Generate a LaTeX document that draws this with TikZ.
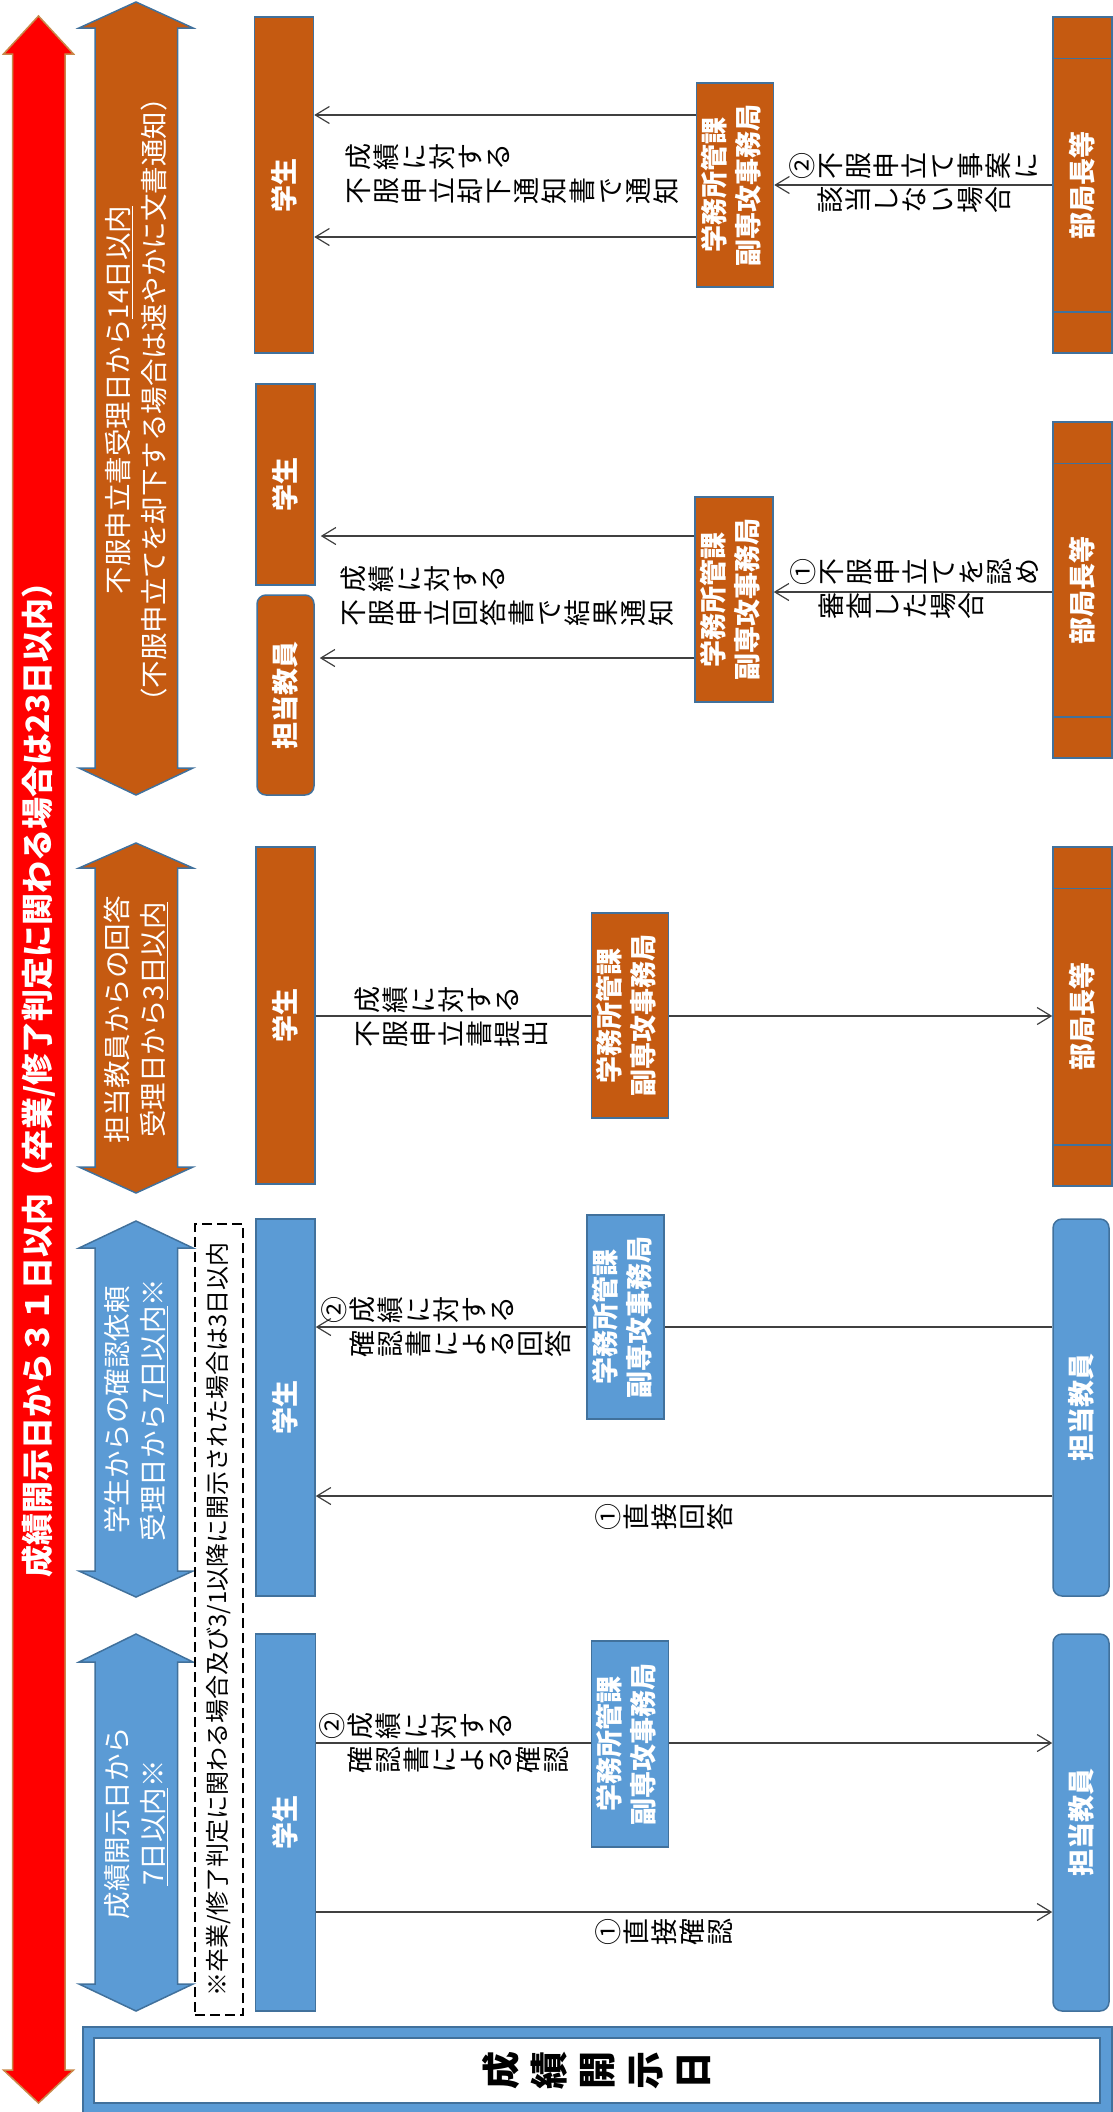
\documentclass[tikz,border=0pt]{standalone}
\usepackage{fontspec}
\setmainfont{Noto Sans CJK JP}
\usepackage{graphicx}
\usetikzlibrary{arrows.meta,positioning}

\definecolor{boxblue}{HTML}{5B9BD5}
\definecolor{edgeblue}{HTML}{41719C}
\definecolor{boxbrown}{HTML}{C55A11}
\definecolor{redrim}{HTML}{C8894A}

\makeatletter
\newcommand\tatecol[2][]{\vtop{\lineskiplimit=-\maxdimen #1\@tfor\tch:=#2\do{\hbox to 1em{\hss\tch\hss}}}}
\makeatother
\newcommand\tatetwo[3][]{\rotatebox{90}{\hbox{\tatecol[#1]{#3}\hskip 7pt\tatecol{#2}}}}

\begin{document}
\begin{tikzpicture}[x=1pt,y=-1pt]
		\tikzstyle{bluebox}=[draw=edgeblue,fill=boxblue,line width=1.5pt,inner sep=0pt,text=white,font=\bfseries\fontsize{27}{34}\selectfont]
		\tikzstyle{brownbox}=[bluebox,fill=boxbrown]
		\tikzstyle{staff}=[rounded corners=9pt]
		\tikzstyle{tatelabel}=[inner sep=0pt,anchor=west,font=\fontsize{27}{28}\selectfont]
		\tikzstyle{spantext}=[rotate=90,align=center,text=white,font=\fontsize{27.5}{36}\selectfont]
		\tikzstyle{flow}=[line width=1.2pt,draw=black!75]
		\tikzstyle{flowto}=[flow,-{Straight Barb[length=14pt,width=17pt]}]
		
		\useasboundingbox (0,0) rectangle (1113,2112);
		
		\filldraw[fill=red,draw=redrim,line width=1.5pt] (38.5,16) -- (73.5,54) -- (65,54) -- (65,2070) -- (73.5,2070) -- (38.5,2103) -- (3.5,2070) -- (12.5,2070) -- (12.5,54) -- (3.5,54) -- cycle;
		\node[rotate=90,text=white,font=\bfseries\fontsize{32}{32}\selectfont] (total) at (38.5,1072) {成績開示日から３１日以内（卒業/修了判定に関わる場合は23日以内）};
		
		\foreach \col/\ya/\yb/\yc/\yd in {boxbrown/2/28/768/795,boxbrown/843/868/1167/1193,boxblue/1221/1248/1571/1597,boxblue/1634/1662/1984/2011}
			\filldraw[fill=\col,draw=edgeblue,line width=1.5pt] (136,\ya) -- (193,\yb) -- (177.5,\yb) -- (177.5,\yc) -- (193,\yc) -- (136,\yd) -- (79,\yc) -- (95,\yc) -- (95,\yb) -- (79,\yb) -- cycle;
		\node[spantext] (spanReject) at (136,400) {不服申立書受理日から\underline{14日以内}\\（不服申立てを却下する場合は速やかに文書通知）};
		\node[spantext] (spanAppeal) at (136,1020) {担当教員からの回答\\受理日から\underline{3日以内}};
		\node[spantext] (spanAnswer) at (136,1410) {学生からの確認依頼\\受理日から\underline{7日以内}※};
		\node[spantext] (spanConfirm) at (136,1823) {成績開示日から\\\underline{7日以内}※};
		
		\node[draw,line width=1.5pt,dash pattern=on 10pt off 5pt,minimum width=48pt,minimum height=791pt,inner sep=0pt,font=\fontsize{24}{24}\selectfont] (note) at (219,1619.5) {\rotatebox{90}{※卒業/修了判定に関わる場合及び3/1以降に開示された場合は3日以内}};
		
		\node[brownbox,minimum width=59pt,minimum height=336pt] (stuReject) at (284,185) {\rotatebox{90}{学生}};
		\node[brownbox,minimum width=77pt,minimum height=204pt] (offReject) at (735,185) {\rotatebox{90}{\begin{tabular}{@{}c@{}}学務所管課\\副専攻事務局\end{tabular}}};
		\node[brownbox,minimum width=59pt,minimum height=336pt] (headReject) at (1082.5,185) {\rotatebox{90}{部局長等}};
		
		\node[brownbox,minimum width=59pt,minimum height=201pt] (stuResult) at (285.5,484.5) {\rotatebox{90}{学生}};
		\node[brownbox,staff,minimum width=57pt,minimum height=200pt] (teaResult) at (285.5,695) {\rotatebox{90}{担当教員}};
		\node[brownbox,minimum width=78pt,minimum height=205pt] (offResult) at (734,599.5) {\rotatebox{90}{\begin{tabular}{@{}c@{}}学務所管課\\副専攻事務局\end{tabular}}};
		\node[brownbox,minimum width=59pt,minimum height=336pt] (headResult) at (1082.5,590) {\rotatebox{90}{部局長等}};
		
		\node[brownbox,minimum width=59pt,minimum height=337pt] (stuAppeal) at (285.5,1015.5) {\rotatebox{90}{学生}};
		\node[brownbox,minimum width=77pt,minimum height=205pt] (offAppeal) at (630,1015.5) {\rotatebox{90}{\begin{tabular}{@{}c@{}}学務所管課\\副専攻事務局\end{tabular}}};
		\node[brownbox,minimum width=59pt,minimum height=339pt] (headAppeal) at (1082.5,1016.5) {\rotatebox{90}{部局長等}};
		
		\node[bluebox,minimum width=59pt,minimum height=377pt] (stuAnswer) at (285.5,1407.5) {\rotatebox{90}{学生}};
		\node[bluebox,minimum width=77pt,minimum height=204pt] (offAnswer) at (625.5,1317) {\rotatebox{90}{\begin{tabular}{@{}c@{}}学務所管課\\副専攻事務局\end{tabular}}};
		\node[bluebox,staff,minimum width=56pt,minimum height=377pt] (teaAnswer) at (1081,1407.5) {\rotatebox{90}{担当教員}};
		
		\node[bluebox,minimum width=60pt,minimum height=377pt] (stuConfirm) at (285.5,1822.5) {\rotatebox{90}{学生}};
		\node[bluebox,minimum width=77pt,minimum height=206pt] (offConfirm) at (630,1744) {\rotatebox{90}{\begin{tabular}{@{}c@{}}学務所管課\\副専攻事務局\end{tabular}}};
		\node[bluebox,staff,minimum width=56pt,minimum height=377pt] (teaConfirm) at (1081,1822.5) {\rotatebox{90}{担当教員}};
		
		\foreach \h in {headReject,headResult,headAppeal}
			\draw[edgeblue,line width=1.5pt] ([yshift=-42pt]\h.north west) -- ([yshift=-42pt]\h.north east) ([yshift=42pt]\h.south west) -- ([yshift=42pt]\h.south east);
		
		\coordinate (rejUp) at (0,115);
		\coordinate (rejDown) at (0,237);
		\coordinate (resUp) at (0,536);
		\coordinate (resDown) at (0,658);
		\coordinate (resHead) at (0,592);
		\coordinate (appRow) at (0,1016);
		\coordinate (ansUp) at (0,1327);
		\coordinate (ansDown) at (0,1496);
		\coordinate (conUp) at (0,1743);
		\coordinate (conDown) at (0,1912);
		
		\draw[flowto] (offReject.west |- rejUp) -- (stuReject.east |- rejUp);
		\draw[flowto] (offReject.west |- rejDown) -- (stuReject.east |- rejDown);
		\draw[flowto] (headReject) -- (offReject);
		\draw[flowto,shorten >=5pt] (offResult.west |- resUp) -- (stuResult.east |- resUp);
		\draw[flowto,shorten >=5pt] (offResult.west |- resDown) -- (teaResult.east |- resDown);
		\draw[flowto] (headResult.west |- resHead) -- (offResult.east |- resHead);
		\draw[flow] (stuAppeal.east |- appRow) -- (offAppeal.west |- appRow);
		\draw[flowto] (offAppeal.east |- appRow) -- (headAppeal.west |- appRow);
		\draw[flowto] (offAnswer.west |- ansUp) -- (stuAnswer.east |- ansUp);
		\draw[flow] (teaAnswer.west |- ansUp) -- (offAnswer.east |- ansUp);
		\draw[flowto] (teaAnswer.west |- ansDown) -- (stuAnswer.east |- ansDown);
		\draw[flow] (stuConfirm.east |- conUp) -- (offConfirm.west |- conUp);
		\draw[flowto] (offConfirm.east |- conUp) -- (teaConfirm.west |- conUp);
		\draw[flowto] (stuConfirm.east |- conDown) -- (teaConfirm.west |- conDown);
		
		\node[tatelabel] (txtReject) at (346,174) {\tatetwo{成績に対する}{不服申立却下通知書で通知}};
		\node[tatelabel] (txtRejectWhy) at (789,183) {\tatetwo[\hbox{}]{②不服申立て事案に}{該当しない場合}};
		\node[tatelabel] (txtResult) at (341,595.5) {\tatetwo{成績に対する}{不服申立回答書で結果通知}};
		\node[tatelabel] (txtResultWhy) at (790,589) {\tatetwo[\hbox{}]{①不服申立てを認め}{審査した場合}};
		\node[tatelabel] (txtAppeal) at (355,1017) {\tatetwo{成績に対する}{不服申立書提出}};
		\node[tatelabel] (txtAnswer) at (321,1326.5) {\tatetwo[\hbox{}]{②成績に対する}{確認書による回答}};
		\node[tatelabel] (txtAnswerDirect) at (595,1516.5) {\rotatebox{90}{\tatecol{①直接回答}}};
		\node[tatelabel] (txtConfirm) at (319,1743) {\tatetwo[\hbox{}]{②成績に対する}{確認書による確認}};
		\node[tatelabel] (txtConfirmDirect) at (595,1931.5) {\rotatebox{90}{\tatecol{①直接確認}}};
		
		\node[draw=edgeblue,fill=boxblue,line width=1.5pt,inner sep=0pt,anchor=north west,minimum width=1029pt,minimum height=110pt] (dayFrame) at (82,2026) {};
		\node[draw=edgeblue,fill=white,line width=1.5pt,inner sep=0pt,minimum width=1006pt,minimum height=65pt,font=\bfseries\fontsize{38}{48}\selectfont] (day) at (597,2070.5) {\rotatebox{90}{\tatecol{成績開示日}}};
\end{tikzpicture}
\end{document}
